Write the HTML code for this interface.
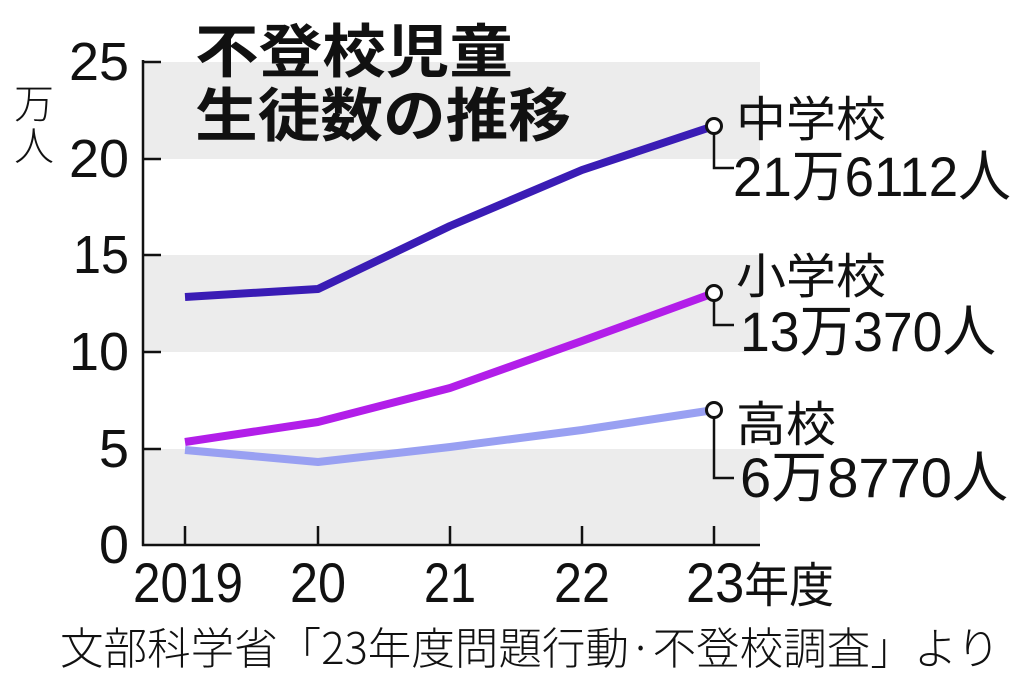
<!DOCTYPE html>
<html><head><meta charset="utf-8"><style>
html,body{margin:0;padding:0;background:#fff;}
svg{display:block;}
text{font-family:"Liberation Sans","Noto Sans CJK JP",sans-serif;fill:#111;}
.j{font-family:"Noto Sans CJK JP",sans-serif;}
</style></head><body>
<svg width="1024" height="678" viewBox="0 0 1024 678">
<rect x="143" y="62" width="617" height="97" fill="#ececec"/>
<rect x="143" y="255" width="617" height="97" fill="#ececec"/>
<rect x="143" y="449" width="617" height="96" fill="#ececec"/>
<g stroke="#111" stroke-width="2.5" fill="none">
<line x1="143" y1="60" x2="143" y2="546"/>
<line x1="142" y1="545" x2="760" y2="545"/>
<line x1="143" y1="62" x2="161" y2="62"/>
<line x1="143" y1="159" x2="161" y2="159"/>
<line x1="143" y1="255" x2="161" y2="255"/>
<line x1="143" y1="352" x2="161" y2="352"/>
<line x1="143" y1="449" x2="161" y2="449"/>
<line x1="185" y1="545" x2="185" y2="526"/>
<line x1="318" y1="545" x2="318" y2="526"/>
<line x1="450" y1="545" x2="450" y2="526"/>
<line x1="582" y1="545" x2="582" y2="526"/>
<line x1="714" y1="545" x2="714" y2="526"/>
</g>
<g font-size="54" text-anchor="end">
<text x="129" y="80" textLength="60" lengthAdjust="spacingAndGlyphs">25</text>
<text x="129" y="177" textLength="60" lengthAdjust="spacingAndGlyphs">20</text>
<text x="129" y="273" textLength="56" lengthAdjust="spacingAndGlyphs">15</text>
<text x="129" y="370" textLength="60" lengthAdjust="spacingAndGlyphs">10</text>
<text x="129" y="467" textLength="30" lengthAdjust="spacingAndGlyphs">5</text>
<text x="129" y="563" textLength="30" lengthAdjust="spacingAndGlyphs">0</text>
</g>
<text class="j" x="14" y="118" font-size="40" font-weight="300">万</text>
<text class="j" x="14" y="160" font-size="40" font-weight="300">人</text>
<g font-size="56">
<text x="133" y="602" textLength="110" lengthAdjust="spacingAndGlyphs">2019</text>
<text x="290" y="602" textLength="56" lengthAdjust="spacingAndGlyphs">20</text>
<text x="424" y="602" textLength="52" lengthAdjust="spacingAndGlyphs">21</text>
<text x="554" y="602" textLength="56" lengthAdjust="spacingAndGlyphs">22</text>
<text x="686" y="602" textLength="148" lengthAdjust="spacingAndGlyphs">23<tspan class="j" font-size="48">年度</tspan></text>
</g>
<text class="j" x="195" y="72" font-size="58" font-weight="bold" textLength="318" lengthAdjust="spacingAndGlyphs">不登校児童</text>
<text class="j" x="195" y="136" font-size="58" font-weight="bold" textLength="376" lengthAdjust="spacingAndGlyphs">生徒数の推移</text>
<g fill="none" stroke-width="8" stroke-linejoin="round" stroke-linecap="butt">
<polyline stroke="#99a0f2" points="185,450 318,462 450,447 582,430 714,410"/>
<polyline stroke="#b21ee9" points="185,442 318,422 450,388 582,341 714,293"/>
<polyline stroke="#3a1cb5" points="185,297 318,289 450,226 582,170 714,126"/>
</g>
<g stroke="#111" stroke-width="2.5" fill="none">
<polyline points="714,133 714,168 734,168"/>
<polyline points="714,300 714,325 734,325"/>
<polyline points="714,417 714,478 734,478"/>
</g>
<g fill="#fff" stroke="#111" stroke-width="3">
<circle cx="714" cy="126" r="7.5"/>
<circle cx="714" cy="293" r="7.5"/>
<circle cx="714" cy="410" r="7.5"/>
</g>
<g class="j" font-size="48">
<text class="j" x="736" y="136" textLength="150" lengthAdjust="spacingAndGlyphs">中学校</text>
<text class="j" x="736" y="293" textLength="150" lengthAdjust="spacingAndGlyphs">小学校</text>
<text class="j" x="736" y="441" textLength="100" lengthAdjust="spacingAndGlyphs">高校</text>
</g>
<g font-size="56">
<text x="733" y="196" textLength="278" lengthAdjust="spacingAndGlyphs">21<tspan class="j">万</tspan>6112<tspan class="j">人</tspan></text>
<text x="740" y="351" textLength="256" lengthAdjust="spacingAndGlyphs">13<tspan class="j">万</tspan>370<tspan class="j">人</tspan></text>
<text x="740" y="497" textLength="268" lengthAdjust="spacingAndGlyphs">6<tspan class="j">万</tspan>8770<tspan class="j">人</tspan></text>
</g>
<text class="j" x="60" y="664" font-size="44" font-weight="300" textLength="940" lengthAdjust="spacingAndGlyphs">文部科学省「23年度問題行動·不登校調査」より</text>
</svg>
</body></html>
